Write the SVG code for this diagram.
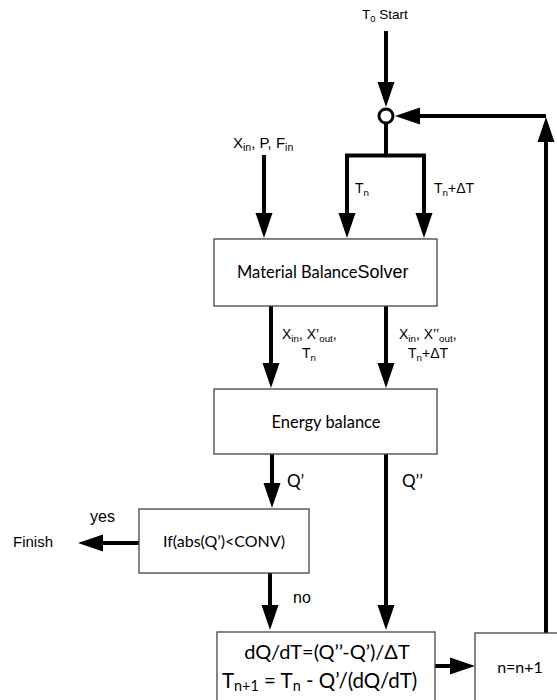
<svg xmlns="http://www.w3.org/2000/svg" width="557" height="700" viewBox="0 0 557 700">
<style>
  .box{fill:#fff;stroke:#444;stroke-width:1.3}
  .ln{fill:none;stroke:#000;stroke-width:4;stroke-linejoin:miter}
  .arr{marker-end:url(#ah)}
  .a{font-family:"Liberation Sans",Arial,sans-serif;fill:#000}
  .c{font-family:Lato,"Open Sans",sans-serif;fill:#000}
  .sub{font-size:70%}
</style>
<defs>
  <marker id="ah" markerUnits="userSpaceOnUse" markerWidth="25" markerHeight="17" refX="15" refY="8.5" orient="auto" overflow="visible">
    <path d="M0,0 L25,8.5 L0,17 z" fill="#000"/>
  </marker>
</defs>
<rect width="557" height="700" fill="#fff"/>

<g id="connectors">
  <line class="ln arr" x1="386" y1="31" x2="386" y2="97"/>
  <line class="ln" x1="386" y1="123" x2="386" y2="156"/>
  <path class="ln arr" d="M386,155.5 H347 V228"/>
  <path class="ln arr" d="M386,155.5 H424 V228"/>
  <line class="ln arr" x1="264" y1="155" x2="264" y2="228"/>
  <line class="ln arr" x1="271" y1="306" x2="271" y2="378"/>
  <line class="ln arr" x1="386" y1="306" x2="386" y2="378"/>
  <line class="ln arr" x1="272" y1="454" x2="272" y2="498"/>
  <line class="ln arr" x1="386" y1="454" x2="386" y2="620"/>
  <line class="ln arr" x1="139" y1="543" x2="88" y2="543"/>
  <line class="ln arr" x1="270" y1="573" x2="270" y2="620"/>
  <line class="ln arr" x1="435" y1="666" x2="465" y2="666"/>
  <line class="ln arr" x1="546" y1="633" x2="546" y2="127"/>
  <line class="ln arr" x1="546" y1="116" x2="405" y2="116"/>
  <circle cx="386" cy="116" r="7" fill="#fff" stroke="#000" stroke-width="3"/>
</g>

<g id="labels">
  <text class="a" x="362" y="19" font-size="13.5">T<tspan class="sub" dy="3">0</tspan><tspan dy="-3"> Start</tspan></text>
  <text class="a" x="233" y="148" font-size="15">X<tspan class="sub" dy="3">in</tspan><tspan dy="-3">, P, F</tspan><tspan class="sub" dy="3">in</tspan></text>
  <text class="a" x="355" y="193" font-size="14">T<tspan class="sub" dy="3">n</tspan></text>
  <text class="a" x="434" y="193" font-size="14">T<tspan class="sub" dy="3">n</tspan><tspan dy="-3">+ΔT</tspan></text>
  <text class="a" x="282" y="339" font-size="14">X<tspan class="sub" dy="3">in</tspan><tspan dy="-3">, X’</tspan><tspan class="sub" dy="3">out</tspan><tspan dy="-3">,</tspan></text>
  <text class="a" x="302" y="358" font-size="14">T<tspan class="sub" dy="3">n</tspan></text>
  <text class="a" x="399" y="339" font-size="14">X<tspan class="sub" dy="3">in</tspan><tspan dy="-3">, X’’</tspan><tspan class="sub" dy="3">out</tspan><tspan dy="-3">,</tspan></text>
  <text class="a" x="408" y="358" font-size="14">T<tspan class="sub" dy="3">n</tspan><tspan dy="-3">+ΔT</tspan></text>
  <text class="c" x="287" y="487" font-size="17">Q’</text>
  <text class="c" x="402" y="487" font-size="17">Q’’</text>
  <text class="a" x="90" y="522" font-size="16">yes</text>
  <text class="a" x="13" y="547" font-size="15">Finish</text>
  <text class="a" x="293" y="603" font-size="16">no</text>
</g>

<g id="mb">
  <rect class="box" x="214" y="239" width="223" height="67"/>
  <text class="c" x="237" y="278" font-size="16.5">Material Balance<tspan class="a" font-size="18">Solver</tspan></text>
</g>
<g id="eb">
  <rect class="box" x="214" y="389" width="223" height="65"/>
  <text class="c" x="326" y="428" font-size="16.5" text-anchor="middle">Energy balance</text>
</g>
<g id="conv">
  <rect class="box" x="139" y="509" width="170" height="64"/>
  <text class="c" x="224" y="547" font-size="16" text-anchor="middle">If(abs(Q’)&lt;CONV)</text>
</g>
<g id="update">
  <rect class="box" x="217" y="632" width="218" height="80"/>
  <text class="c" x="327" y="659" font-size="20" text-anchor="middle">dQ/dT=(Q’’-Q’)/ΔT</text>
  <text class="c" x="222" y="688" font-size="20.5">T<tspan class="sub" dy="3">n+1</tspan><tspan dy="-3"> = T</tspan><tspan class="sub" dy="3">n</tspan><tspan dy="-3"> - Q’/(dQ/dT)</tspan></text>
</g>
<g id="incr">
  <rect class="box" x="475" y="633" width="100" height="80"/>
  <text class="c" x="520" y="673" font-size="16" text-anchor="middle">n=n+1</text>
</g>
</svg>
